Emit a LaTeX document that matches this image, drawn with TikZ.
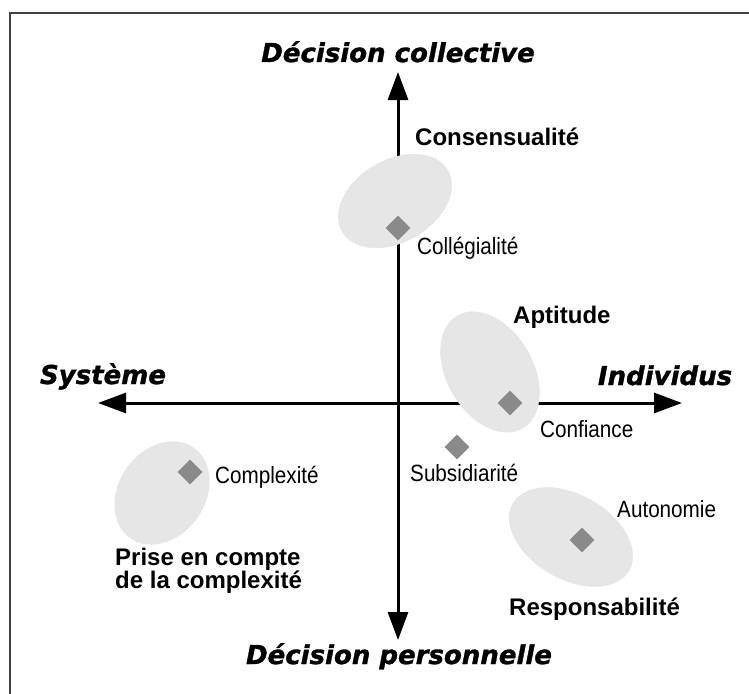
\documentclass[tikz,border=0pt]{standalone}
\usepackage{graphicx}
\usepackage{fontspec}
\setmainfont{Liberation Sans}
\newfontfamily\axisfont{DejaVu Sans}[BoldItalicFeatures={FakeBold=1.2}]
\usetikzlibrary{shapes.geometric, arrows.meta, positioning}
\definecolor{zonegray}{RGB}{230,230,230}
\definecolor{pointgray}{RGB}{138,138,138}
\newcommand{\narrow}[1]{\scalebox{0.88}[1]{#1}}
\tikzstyle{axislabel} = [font=\axisfont\bfseries\itshape\fontsize{26}{30}\selectfont, inner sep=0pt]
\tikzstyle{group} = [font=\bfseries\fontsize{24}{23}\selectfont, inner sep=0pt, align=left]
\tikzstyle{item} = [font=\fontsize{23.5}{26}\selectfont, inner sep=0pt]
\tikzstyle{zone} = [ellipse, fill=zonegray, draw=gray!20, inner sep=0pt]
\tikzstyle{point} = [diamond, fill=pointgray, minimum width=25pt, minimum height=25pt, inner sep=0pt]
\tikzstyle{axis} = [line width=3pt, {Triangle[length=28pt,width=20pt]}-{Triangle[length=28pt,width=20pt]}]

\begin{document}
\begin{tikzpicture}[x=1pt, y=-1pt]
\useasboundingbox (0,0) rectangle (749,693);
\draw[line width=1.5pt, black!75] (10,700) |- (760,13);

% Axes
\coordinate (north) at (398,72);
\coordinate (south) at (398,640);
\coordinate (west) at (98,403);
\coordinate (east) at (682,403);
\draw [axis] (south) -- (north);
\draw [axis] (west) -- (east);

% Zones
\node (zColl) [zone, minimum width=122pt, minimum height=82pt, rotate=30] at (395,201) {};
\node (zApt) [zone, minimum width=130pt, minimum height=86pt, rotate=-60] at (490,372) {};
\node (zResp) [zone, minimum width=134pt, minimum height=84pt, rotate=-30] at (571,537) {};
\node (zCompl) [zone, minimum width=110pt, minimum height=86pt, rotate=55] at (162,493) {};

% Points
\node (pColl) [point] at (398,228) {};
\node (pConf) [point] at (510,403) {};
\node (pSubs) [point] at (457,447) {};
\node (pAuto) [point] at (582,540) {};
\node (pCompl) [point] at (190,472) {};

% Labels
\node (collective) [axislabel, anchor=base] at (398,62) {Décision collective};
\node (personnelle) [axislabel, anchor=base] at (399,664) {Décision personnelle};
\node (systeme) [axislabel, anchor=base] at (103,384) {Système};
\node (individus) [axislabel, anchor=base] at (665,385) {Individus};

\node (consens) [group, anchor=base west] at (415,145) {Consensualité};
\node (aptitude) [group, anchor=base west] at (513,323) {Aptitude};
\node (respons) [group, anchor=base west] at (509,615) {Responsabilité};
\node (prise) [group, anchor=north west] at (115,548) {Prise en compte\\de la complexité};

\node (college) [item, anchor=base west] at (417,254) {\narrow{Collégialité}};
\node (confiance) [item, anchor=base west] at (540,437) {\narrow{Confiance}};
\node (subsid) [item, anchor=base west] at (410,481) {\narrow{Subsidiarité}};
\node (complex) [item, anchor=base west] at (215,483) {\narrow{Complexité}};
\node (autonomie) [item, anchor=base west] at (617,517) {\narrow{Autonomie}};

\end{tikzpicture}
\end{document}
